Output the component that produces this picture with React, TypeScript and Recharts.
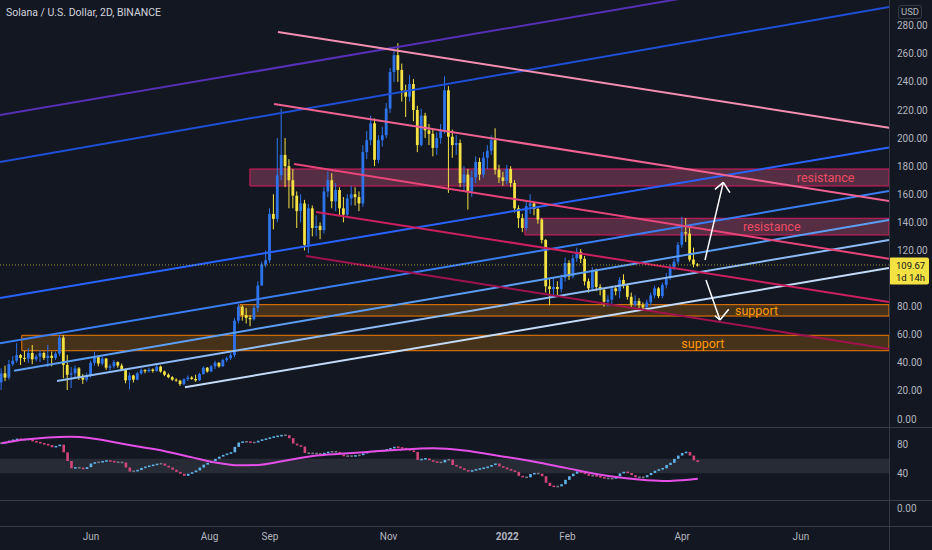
import React from 'react';
import {
  ComposedChart,
  Bar,
  Line,
  XAxis,
  YAxis,
  ReferenceLine,
  ReferenceArea,
  ReferenceDot,
} from 'recharts';

if (typeof document !== 'undefined') {
  document.body.style.margin = '0';
  document.body.style.background = '#131722';
  document.body.style.overflow = 'hidden';
}

const BG = '#131722';
const TEXT = '#b2b5be';
const BORDER = '#363a45';
const UP = '#2d74ec';
const DOWN = '#f4e242';
const RSI_UP = '#5fb3e6';
const RSI_DOWN = '#d2467a';
const RSI_FLAT = '#787b86';

// candles: days counted from 2021-06-01, one 2D bar every 2 days
const FIRST_DAY = -46;
const FIRST_OPEN = 26;
const CLOSE = [
  32.5, 29.5, 39, 41.5, 45.5, 43.5, 43, 47, 42.5, 44.5, 47, 43.5, 45, 43.5, 46.5, 58, 38.5, 31.5, 32.5, 36,
  29.5, 28, 31, 40, 44, 39.5, 43, 36.5, 37.5, 40.5, 38, 35, 27.5, 31, 28, 32.5, 34.8, 34, 35.2, 34.2,
  37.3, 33.8, 31.5, 29.8, 28, 27.3, 24.8, 28.3, 29.5, 28.5, 27.5, 32, 36.5, 33.8, 37.5, 40, 37.5, 42, 43.3, 45.5,
  70, 80, 74, 72, 71, 79, 95, 110, 113, 146, 142.5, 173.5, 188, 180, 170, 159, 148, 153.5, 124, 150,
  136, 137.5, 134.5, 162, 170, 155, 163, 150, 145.5, 157, 160, 158, 153.5, 190, 198.5, 210.5, 184.5, 198.5, 202, 221,
  247, 259, 248.5, 234, 229.5, 238.5, 220, 195, 216, 205.5, 203, 193, 200, 205.5, 234, 201, 195, 196.5, 168, 174,
  162, 172, 183, 174, 186, 191, 198.5, 177.5, 172, 169.5, 178, 168, 150, 143, 136, 151.5, 153.5, 149.5, 142, 127.5,
  94.5, 92.5, 94, 92.5, 100.5, 111, 101.5, 114.5, 119, 114, 98, 93, 106, 94, 92, 83.5, 85, 93, 91, 99,
  95, 87, 81.5, 84, 81, 79.5, 83, 88, 93, 87.5, 95.5, 101, 108, 112, 124, 133, 132, 113.5, 110, 109.67,
];
const HIGH = [
  36, 38, 42, 44.8, 54, 46.3, 48.4, 50.5, 52.7, 46, 49, 48, 52.7, 48, 48, 59.8, 59.8, 45.6, 37, 38,
  37, 32, 33, 41.5, 47.9, 45, 44.5, 43.5, 39, 42, 41, 39.5, 36, 33, 31.5, 33.5, 36, 35.5, 36.5, 36,
  38.5, 38, 34.5, 32.5, 30.5, 29, 27.8, 29, 31, 30.5, 31.5, 33, 37.5, 37, 38.5, 41.5, 40.5, 43, 44.5, 47,
  72, 82, 81, 79, 74, 81, 98, 112, 120, 150, 160, 200, 221, 200, 185, 178, 162, 160, 156, 153,
  152, 145, 140, 165, 176, 175, 168, 165, 158, 160, 166, 165, 162, 195, 205, 216, 214, 202, 208, 225,
  250, 262, 267.5, 253, 238, 245, 242, 223, 221, 218, 210, 206, 204, 210, 244, 237, 206, 202, 199, 180,
  178, 177, 187, 186, 190, 195, 202, 207, 181, 176, 181, 180, 170, 152, 146, 155, 160, 154, 151, 143,
  128, 100, 100, 98, 103, 115, 113, 117, 122, 121, 116, 100, 108, 107, 96, 93, 88, 95, 95, 101,
  103, 96, 90, 88, 86, 83, 85, 90, 95, 94, 97, 104, 110, 114, 126, 144, 143, 137, 122, 111,
];
const LOW = [
  20.6, 27, 28, 37.7, 40, 38.4, 40.6, 40, 39, 41, 40.6, 42, 37, 37.5, 42, 44.8, 29, 20.6, 22, 29.8,
  27.8, 25, 26.5, 29.5, 38, 37.5, 38, 35, 34.5, 36, 36.5, 34, 25.4, 21, 26, 27.5, 31.5, 32.5, 33, 33,
  33.5, 33, 30.5, 29, 27.2, 26.5, 23.5, 24, 27, 27.8, 26.5, 27, 31.5, 33, 33.5, 35.5, 36.5, 37, 40.5, 42,
  44, 68, 70, 68, 66, 70, 76, 95, 108, 111, 135, 140, 170, 165, 150, 150, 136, 140, 120, 118,
  130, 130, 128, 132, 158, 150, 148, 145, 140, 143, 152, 152, 148, 151, 185, 195, 180, 182, 194, 200,
  218, 240, 240, 226, 215, 226, 212, 190, 194, 200, 195, 187, 188, 196, 203, 161, 186, 188, 165, 162,
  149, 158, 168, 170, 172, 178, 188, 174, 168, 166, 167, 165, 147, 136, 133, 134, 146, 145, 139, 125,
  90, 81, 86, 88, 90, 98, 99, 100, 112, 111, 95, 90, 91, 91, 88, 80, 80, 82, 88, 86,
  93, 85, 79, 80, 79, 77.5, 78, 81, 86, 86, 86, 93, 99, 106, 110, 122, 126, 112, 108, 108.5,
];
const RSI = [
  81.5, 83, 85, 86, 87.5, 86.5, 86.5, 87, 84, 83, 81.5, 80, 79, 76, 77.5, 79.5, 69, 57, 47, 48,
  47.5, 46, 48.5, 53.5, 55, 55.5, 56.5, 57.5, 56.5, 55.5, 55, 55, 48, 42.5, 43, 44.5, 47.5, 49, 50.5, 51.5,
  53, 53.5, 50.5, 48, 45, 42, 39.5, 36.5, 39.5, 41.5, 44, 48, 52, 54.5, 57, 60, 63, 65.5, 67, 69,
  76.5, 82.5, 83.5, 83.5, 82.5, 82.5, 85, 86.5, 87.5, 89.5, 90.5, 91.5, 92.5, 92.5, 88.5, 81, 78.5, 77, 68, 67.5,
  67.5, 67, 66.5, 68, 69.5, 70, 69.5, 66, 63.5, 64, 63.5, 64.5, 65, 67.5, 69.5, 70, 70, 71, 71.5, 73,
  74.5, 76.5, 75.5, 74.5, 73.5, 71.5, 69.5, 58.5, 59.5, 60.5, 58, 56, 55, 55, 58.5, 59, 51.5, 49.5, 47, 44.5,
  42.5, 44, 45.5, 46.5, 47.5, 49, 51.5, 53.5, 49.5, 48, 45.5, 44, 42, 36.5, 34.5, 34.5, 39, 40, 39.5, 36,
  27, 22.5, 21.5, 22, 25, 31, 36, 39.5, 42.5, 41, 39, 36.5, 37, 36, 34.5, 33, 33, 32.5, 36, 40,
  42, 40.5, 37.5, 34.5, 34.5, 34.5, 37.5, 40.5, 43.5, 45.5, 47, 51.5, 54.5, 60, 64.5, 68, 69.5, 64.5, 58, 55.5,
];
const RSI_MA_DAY = [
  -46, -34, -22, -11, 0, 12, 24, 38, 52, 64, 76, 86, 96, 106, 116, 128, 142, 158, 176, 192,
  210, 228, 244, 262, 274, 286, 296, 304, 312,
];
const RSI_MA = [
  81.5, 86.5, 89.5, 90.5, 88.5, 83, 77, 70.5, 62, 55, 51, 51.5, 55.5, 60.5, 64.5, 67, 69.5, 72.5, 74.5, 71.5,
  64, 56, 47.5, 38, 33.5, 30.5, 29.4, 30.5, 32.6,
];

const MONTH_DAYS = [0, 61, 92, 153, 214, 245, 304, 365];
const MONTH_LABELS = ['Jun', 'Aug', 'Sep', 'Nov', '2022', 'Feb', 'Apr', 'Jun'];
const PRICE_TICKS = [0, 20, 40, 60, 80, 120, 140, 160, 180, 200, 220, 240, 260, 280];
const RSI_TICKS = [40, 80];
const RSI_BAND = [40, 60];
const LAST_PRICE = 109.67;
const COUNTDOWN = '1d 14h';

const DAY_DOMAIN: [number, number] = [-46.8, 410.3];
const PRICE_DOMAIN: [number, number] = [-5.7, 298.3];
const RSI_DOMAIN: [number, number] = [3.2, 103.9];

// trend lines: [day1, price1, day2, price2]
const TREND_LINES: [number, number, number, number][] = [
  [-46.8, 216.4, 410.3, 324.6],
  [-46.8, 183.0, 410.3, 293.3],
  [-46.8, 86.1, 410.3, 193.3],
  [-46.8, 53.9, 410.3, 162.3],
  [-39.6, 34.4, 410.3, 141.7],
  [-17.5, 27.1, 410.3, 127.4],
  [48.3, 22.6, 410.3, 107.5],
  [96.1, 275.5, 410.3, 207.4],
  [94.1, 224.3, 410.3, 155.2],
  [104.4, 181.5, 410.3, 114.1],
  [115.7, 147.4, 410.3, 83.3],
  [110.5, 116.0, 410.3, 49.8],
];
const TREND_COLORS = [
  '#5530b5', '#1e4fd6', '#2962ff', '#3b7df2', '#5c9ef5', '#8fbcf7', '#c5dcf8',
  '#f48fb1', '#f06292', '#e8457a', '#cc1f5e', '#a0124f',
];

// zones: [day1, day2, priceLow, priceHigh]
const ZONES: [number, number, number, number][] = [
  [81.7, 410.3, 165.9, 178.0],
  [223.1, 410.3, 131.0, 142.9],
  [76.6, 410.3, 73.3, 81.4],
  [-35.6, 410.3, 48.6, 59.6],
];
const ZONE_NAMES = ['resistance', 'resistance', 'support', 'support'];
const ZONE_LABEL_AT: [number, number][] = [
  [377.7, 171.9],
  [350.0, 136.9],
  [342.2, 77.4],
  [314.6, 54.0],
];

// arrows: shaft and two head strokes, [day1, price1, day2, price2]
const ARROWS: [number, number, number, number][] = [
  [315.7, 113.2, 325.1, 168.5],
  [325.1, 168.5, 320.8, 163.5],
  [325.1, 168.5, 328.5, 161.1],
  [316.2, 99.0, 323.4, 70.5],
  [323.4, 70.5, 320.8, 73.5],
  [323.4, 70.5, 327.9, 78.1],
];

const candles = CLOSE.map((close, i) => {
  const open = i === 0 ? FIRST_OPEN : CLOSE[i - 1];
  return {
    t: FIRST_DAY + 2 * i,
    open,
    close,
    high: HIGH[i],
    low: LOW[i],
    range: [LOW[i], HIGH[i]],
  };
});

const rsiData = RSI.map((v, i) => {
  const prev = i === 0 ? v : RSI[i - 1];
  return { t: FIRST_DAY + 2 * i, open: prev, close: v, range: [Math.min(prev, v), Math.max(prev, v)] };
});

const maData = RSI_MA_DAY.map((t, i) => ({ t, v: RSI_MA[i] }));

const Candle = (props: any) => {
  const { x, y, width, height, payload } = props;
  if (x == null || y == null) return null;
  const top = Math.min(y, y + height);
  const span = Math.abs(height);
  const { open, close, high, low } = payload;
  const toY = (v: number) => (high === low ? top : top + ((high - v) / (high - low)) * span);
  const color = close >= open ? UP : DOWN;
  const cx = x + width / 2;
  const yo = toY(open);
  const yc = toY(close);
  const bodyTop = Math.min(yo, yc);
  const bodyH = Math.max(1, Math.abs(yc - yo));
  return (
    <g>
      <line x1={cx} x2={cx} y1={top} y2={top + span} stroke={color} strokeWidth={1} />
      <rect x={cx - 1.4} y={bodyTop} width={2.8} height={bodyH} fill={color} />
    </g>
  );
};

const RsiCandle = (props: any) => {
  const { x, y, width, height, payload } = props;
  if (x == null || y == null) return null;
  const top = Math.min(y, y + height);
  const span = Math.abs(height);
  const diff = payload.close - payload.open;
  const color = Math.abs(diff) < 0.6 ? RSI_FLAT : diff > 0 ? RSI_UP : RSI_DOWN;
  const h = Math.max(1.6, span);
  const cx = x + width / 2;
  return <rect x={cx - 1.3} y={top + span / 2 - h / 2} width={2.6} height={h} fill={color} />;
};

const PriceTag = (props: any) => {
  const vb = props.viewBox || {};
  const x = (vb.x || 0) + (vb.width || 0);
  const y = vb.y || 0;
  return (
    <g>
      <rect x={x} y={y - 7.5} width={40} height={27} fill={DOWN} rx={2} />
      <text x={x + 7} y={y + 0.5} dy="0.35em" fontSize={9.5} fill={BG}>
        {LAST_PRICE.toFixed(2)}
      </text>
      <text x={x + 7} y={y + 12.5} dy="0.35em" fontSize={9.5} fill={BG}>
        {COUNTDOWN}
      </text>
    </g>
  );
};

const TimeTick = (props: any) => {
  const { x, y, payload } = props;
  const idx = MONTH_DAYS.indexOf(payload.value);
  const label = MONTH_LABELS[idx] ?? '';
  return (
    <text x={x} y={y} dy="0.71em" textAnchor="middle" fill={TEXT} fontSize={10} fontWeight={label === '2022' ? 700 : 400}>
      {label}
    </text>
  );
};

const hLine = (top: number): React.CSSProperties => ({
  position: 'absolute',
  left: 0,
  top,
  width: 932,
  height: 1,
  background: BORDER,
});

export default function App() {
  return (
    <div
      style={{
        position: 'relative',
        width: 932,
        height: 550,
        background: BG,
        overflow: 'hidden',
        fontFamily: 'Roboto, "Noto Sans", sans-serif',
      }}
    >
      <div style={{ position: 'absolute', left: 0, top: 0 }}>
        <ComposedChart width={932} height={427} data={candles} margin={{ top: 0, right: 0, bottom: 0, left: 0 }}>
          <XAxis type="number" dataKey="t" domain={DAY_DOMAIN} allowDataOverflow hide />
          <YAxis
            orientation="right"
            width={43}
            domain={PRICE_DOMAIN}
            allowDataOverflow
            ticks={PRICE_TICKS}
            interval={0}
            tickFormatter={(v: number) => v.toFixed(2)}
            axisLine={false}
            tickLine={false}
            tickSize={0}
            tickMargin={8}
            tick={{ fill: TEXT, fontSize: 10 }}
          />
          <Bar dataKey="range" barSize={3} shape={<Candle />} isAnimationActive={false} />
          {ZONES.map((z, i) => (
            <ReferenceArea
              key={`zone-${i}`}
              x1={z[0]}
              x2={z[1]}
              y1={z[2]}
              y2={z[3]}
              ifOverflow="hidden"
              fill={ZONE_NAMES[i] === 'support' ? '#ff9800' : '#f06292'}
              fillOpacity={ZONE_NAMES[i] === 'support' ? 0.22 : 0.3}
              stroke={ZONE_NAMES[i] === 'support' ? '#f57c00' : '#d81b60'}
              strokeWidth={1}
            />
          ))}
          {TREND_LINES.map((l, i) => (
            <ReferenceLine
              key={`trend-${i}`}
              segment={[
                { x: l[0], y: l[1] },
                { x: l[2], y: l[3] },
              ]}
              ifOverflow="hidden"
              stroke={TREND_COLORS[i]}
              strokeWidth={2}
            />
          ))}
          <ReferenceLine y={LAST_PRICE} stroke={DOWN} strokeOpacity={0.6} strokeDasharray="1 2" label={(p: any) => <PriceTag {...p} />} />
          {ARROWS.map((a, i) => (
            <ReferenceLine
              key={`arrow-${i}`}
              segment={[
                { x: a[0], y: a[1] },
                { x: a[2], y: a[3] },
              ]}
              ifOverflow="hidden"
              stroke="#ffffff"
              strokeWidth={1.5}
            />
          ))}
          {ZONE_LABEL_AT.map((p, i) => (
            <ReferenceDot
              key={`zl-${i}`}
              x={p[0]}
              y={p[1]}
              r={0}
              fill="none"
              stroke="none"
              label={{
                value: ZONE_NAMES[i],
                position: 'center',
                fill: ZONE_NAMES[i] === 'support' ? '#ff9800' : '#ef4a64',
                fontSize: 12.5,
              }}
            />
          ))}
        </ComposedChart>
      </div>

      <div style={{ position: 'absolute', left: 0, top: 427 }}>
        <ComposedChart width={932} height={123} data={rsiData} margin={{ top: 0, right: 0, bottom: 0, left: 0 }}>
          <XAxis
            type="number"
            dataKey="t"
            domain={DAY_DOMAIN}
            allowDataOverflow
            ticks={MONTH_DAYS}
            interval={0}
            height={50}
            axisLine={false}
            tickLine={false}
            tickSize={0}
            tickMargin={33}
            tick={<TimeTick />}
          />
          <YAxis
            orientation="right"
            width={43}
            domain={RSI_DOMAIN}
            allowDataOverflow
            ticks={RSI_TICKS}
            interval={0}
            axisLine={false}
            tickLine={false}
            tickSize={0}
            tickMargin={8}
            tick={{ fill: TEXT, fontSize: 10 }}
          />
          <ReferenceArea y1={RSI_BAND[0]} y2={RSI_BAND[1]} fill="#9598a1" fillOpacity={0.16} stroke="none" ifOverflow="hidden" />
          <Bar dataKey="range" barSize={3} shape={<RsiCandle />} isAnimationActive={false} />
          <Line
            data={maData}
            dataKey="v"
            type="monotone"
            stroke="#e64fe6"
            strokeWidth={2}
            dot={false}
            isAnimationActive={false}
          />
        </ComposedChart>
      </div>

      <div style={hLine(427)} />
      <div style={hLine(500)} />
      <div style={hLine(526)} />
      <div style={{ position: 'absolute', left: 889, top: 0, width: 1, height: 550, background: BORDER }} />

      <div style={{ position: 'absolute', left: 6, top: 6, fontSize: 10.5, lineHeight: '14px', color: '#d1d4dc' }}>
        Solana / U.S. Dollar, 2D, BINANCE
      </div>
      <div
        style={{
          position: 'absolute',
          left: 898,
          top: 5,
          width: 24,
          height: 14,
          border: `1px solid ${BORDER}`,
          borderRadius: 3,
          boxSizing: 'border-box',
          fontSize: 9.5,
          lineHeight: '12px',
          textAlign: 'center',
          color: TEXT,
        }}
      >
        USD
      </div>
      <div style={{ position: 'absolute', left: 897, top: 503, fontSize: 10, lineHeight: '12px', color: TEXT }}>0.00</div>
    </div>
  );
}
